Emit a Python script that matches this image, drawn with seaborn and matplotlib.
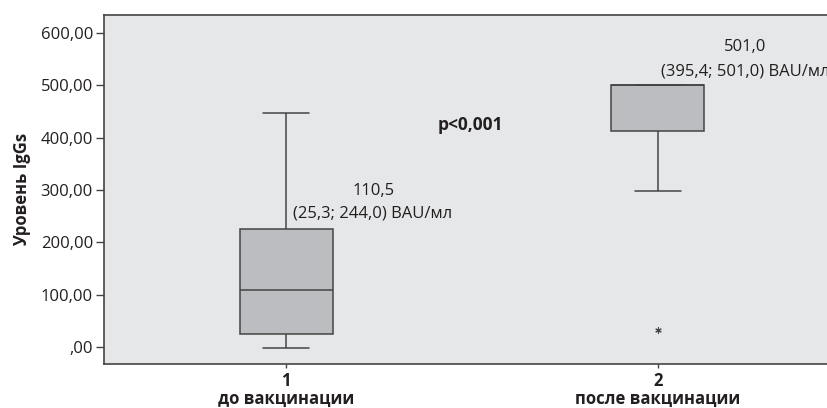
import matplotlib
matplotlib.use("Agg")
import matplotlib.pyplot as plt
import seaborn as sns
import pandas as pd

# Five-number summaries per group (lower whisker, Q1, median, Q3, upper whisker)
groups = ["1\nдо вакцинации", "2\nпосле вакцинации"]
before_summary = [-1.0, 24.8, 109.4, 225.0, 446.5]
after_summary = [297.7, 413.0, 501.0, 501.0, 501.0]

# Extreme value in the post-vaccination group
extreme_group = ["2\nпосле вакцинации"]
extreme_value = [33.0]

# Annotations: median (Q1; Q3)
ann_before = ["110,5", "(25,3; 244,0) BAU/мл"]
ann_after = ["501,0", "(395,4; 501,0) BAU/мл"]
p_text = "p<0,001"

y_ticks = [0, 100, 200, 300, 400, 500, 600]
y_tick_labels = [",00", "100,00", "200,00", "300,00", "400,00", "500,00", "600,00"]
y_label = "Уровень IgGs"

df = pd.DataFrame({
    "group": [groups[0]] * len(before_summary) + [groups[1]] * len(after_summary),
    "value": before_summary + after_summary,
})
df_ext = pd.DataFrame({"group": extreme_group, "value": extreme_value})

sns.set_theme(style="white")
plt.rcParams["font.family"] = ["Open Sans", "DejaVu Sans"]

text_color = "#231f20"
line_color = "#444444"
bg_color = "#e6e7e8"
box_color = "#bcbdc0"

fig = plt.figure(figsize=(8.28, 4.08), dpi=100)
ax = fig.add_axes([104 / 828, (408 - 364) / 408, 1 - 104 / 828 + 0.01, (364 - 15) / 408])
ax.set_facecolor(bg_color)

sns.boxplot(
    data=df, x="group", y="value", order=groups, width=0.25,
    color=box_color, saturation=1, linecolor=line_color, linewidth=1.1,
    whis=1.5, fliersize=0, ax=ax,
)
sns.scatterplot(
    data=df_ext, x="group", y="value", marker=(6, 2, 0), s=16,
    color=line_color, linewidth=0.8, edgecolor=line_color, ax=ax, zorder=5,
)

ax.set_xlim(-0.49, 1.48)
ax.set_ylim(-32, 634)
ax.set_yticks(y_ticks)
ax.set_yticklabels(y_tick_labels, fontsize=12, color=text_color)
ax.set_xticks([0, 1])
ax.set_xticklabels(groups, fontsize=12, fontweight="bold", color=text_color,
                   linespacing=1.0)
ax.set_xlabel("")
ax.set_ylabel(y_label, fontsize=12, fontweight="bold", color=text_color, labelpad=7)

ax.tick_params(axis="y", which="major", length=6, width=1.0, color=line_color,
               direction="out", left=True, pad=2)
ax.tick_params(axis="x", which="major", length=3, width=1.0, color=line_color,
               direction="out", bottom=True, pad=3)

for side in ["left", "top", "bottom"]:
    ax.spines[side].set_color(line_color)
    ax.spines[side].set_linewidth(1.2)
ax.spines["right"].set_visible(False)

ax.text(0.234, 298, ann_before[0], ha="center", va="center", fontsize=12, color=text_color)
ax.text(0.234, 256, ann_before[1], ha="center", va="center", fontsize=12, color=text_color)
ax.text(1.235, 573, ann_after[0], ha="center", va="center", fontsize=12, color=text_color)
ax.text(1.235, 527, ann_after[1], ha="center", va="center", fontsize=12, color=text_color)
ax.text(0.496, 424, p_text, ha="center", va="center", fontsize=12.5, fontweight="bold",
        color=text_color)

fig.savefig("out.png", dpi=100, facecolor="white")
